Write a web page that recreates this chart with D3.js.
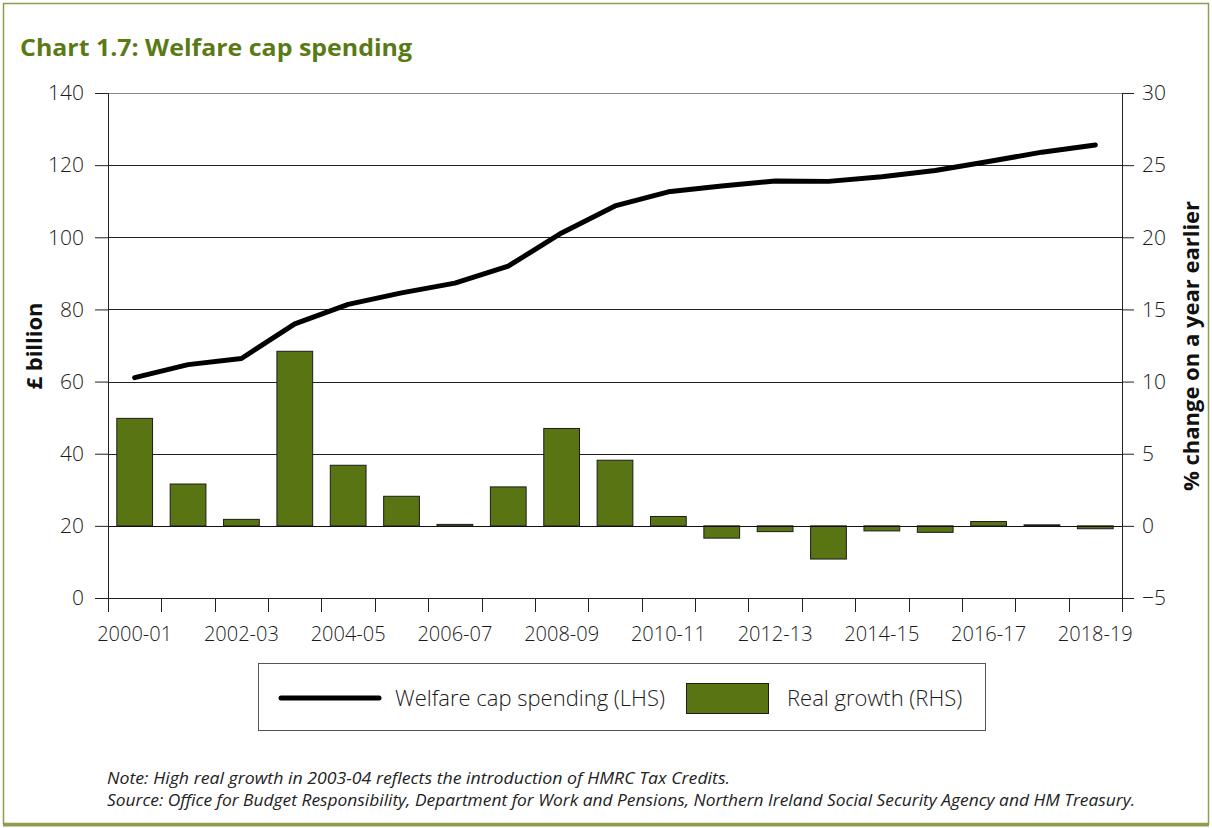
<!DOCTYPE html>
<html>
<head>
<meta charset="utf-8">
<script src="https://cdn.jsdelivr.net/npm/d3@7"></script>
<style>
  html, body { margin: 0; padding: 0; background: #fff; }
  svg { display: block; font-family: "Open Sans", "Noto Sans", sans-serif; }
</style>
</head>
<body>
<svg id="chart" width="1212" height="828"></svg>
<script>
// Fiscal years
const years = ["2000-01","2001-02","2002-03","2003-04","2004-05","2005-06","2006-07","2007-08",
  "2008-09","2009-10","2010-11","2011-12","2012-13","2013-14","2014-15","2015-16","2016-17",
  "2017-18","2018-19"];
// Welfare cap spending, £ billion (left axis)
const spending = [61.1, 64.7, 66.4, 76.0, 81.4, 84.6, 87.3, 92.0, 101.2, 108.7, 112.6, 114.2,
  115.6, 115.5, 116.8, 118.5, 121.0, 123.6, 125.6];
// Real growth, % change on a year earlier (right axis)
const growth = [7.45, 2.9, 0.45, 12.1, 4.2, 2.05, 0.1, 2.7, 6.75, 4.55, 0.65, -0.85, -0.4,
  -2.3, -0.35, -0.45, 0.3, 0.07, -0.2];
// Axis ticks
const leftTicks = [0, 20, 40, 60, 80, 100, 120, 140];
const rightTicks = [-5, 0, 5, 10, 15, 20, 25, 30];
const labelledYears = years.filter((d, i) => i % 2 === 0);

const green = "#587413";
const olive = "#8d9d4c";
const svg = d3.select("#chart");

// Frame
svg.append("rect").attr("x", 3.5).attr("y", 3.5).attr("width", 1205).attr("height", 820)
  .attr("fill", "none").attr("stroke", olive).attr("stroke-width", 1.5);
svg.append("line").attr("x1", 3).attr("x2", 1209).attr("y1", 825).attr("y2", 825)
  .attr("stroke", olive).attr("stroke-width", 3);

// Title
svg.append("text").attr("x", 20).attr("y", 56).text("Chart 1.7: Welfare cap spending")
  .attr("fill", "#5a7a16").attr("font-weight", "bold").attr("font-size", 24)
  .attr("textLength", 392).attr("lengthAdjust", "spacingAndGlyphs");

const plot = { left: 108, right: 1122, top: 93, bottom: 598 };
const x = d3.scaleBand().domain(years).range([plot.left, plot.right]).paddingInner(0.33).paddingOuter(0.165);
const xb = d3.scaleBand().domain(years).range([plot.left, plot.right]);
const yL = d3.scaleLinear().domain([0, 140]).range([plot.bottom, plot.top]);
const yR = d3.scaleLinear().domain([-5, 30]).range([plot.bottom, plot.top]);

// Gridlines
svg.append("g").selectAll("line").data(leftTicks.filter(d => d > 0)).join("line")
  .attr("x1", plot.left).attr("x2", plot.right)
  .attr("y1", d => Math.round(yL(d)) + 0.5).attr("y2", d => Math.round(yL(d)) + 0.5)
  .attr("stroke", d => d === 140 ? "#888" : "#222").attr("stroke-width", 1);

// Bars
svg.append("g").selectAll("rect").data(growth).join("rect")
  .attr("x", (d, i) => x(years[i]))
  .attr("width", x.bandwidth())
  .attr("y", d => yR(Math.max(0, d)))
  .attr("height", d => Math.abs(yR(d) - yR(0)))
  .attr("fill", green).attr("stroke", "#1c1c1c").attr("stroke-width", 1);

// Zero line for the bars
svg.append("line").attr("x1", plot.left).attr("x2", plot.right)
  .attr("y1", Math.round(yR(0)) + 0.5).attr("y2", Math.round(yR(0)) + 0.5)
  .attr("stroke", "#111").attr("stroke-width", 1);

// Spending line
const line = d3.line().x((d, i) => xb(years[i]) + xb.bandwidth() / 2).y(d => yL(d));
svg.append("path").datum(spending).attr("d", line)
  .attr("fill", "none").attr("stroke", "#000").attr("stroke-width", 5)
  .attr("stroke-linejoin", "round").attr("stroke-linecap", "round");

// Axes
const tickFont = size => g => g.selectAll("text").attr("font-size", size).attr("fill", "#1a1a1a")
  .attr("font-family", "'Open Sans', 'Noto Sans', sans-serif").attr("font-weight", 300);

const axL = svg.append("g").attr("transform", `translate(${plot.left},0)`)
  .call(d3.axisLeft(yL).tickValues(leftTicks).tickSize(13).tickPadding(11));
axL.call(tickFont(21));
axL.selectAll("line, path").attr("stroke", "#222");

const axR = svg.append("g").attr("transform", `translate(${plot.right},0)`)
  .call(d3.axisRight(yR).tickValues(rightTicks).tickSize(12).tickPadding(8));
axR.call(tickFont(21));
axR.selectAll("line, path").attr("stroke", "#222");

// Category axis: ticks at band edges, labels every other year
const axB = svg.append("g").attr("transform", `translate(0,${plot.bottom})`);
axB.append("line").attr("x1", plot.left).attr("x2", plot.right).attr("y1", 0.5).attr("y2", 0.5)
  .attr("stroke", "#222");
axB.selectAll("line.tk").data(years.concat(["end"])).join("line").attr("class", "tk")
  .attr("x1", (d, i) => Math.round(plot.left + i * xb.step()) + 0.5)
  .attr("x2", (d, i) => Math.round(plot.left + i * xb.step()) + 0.5)
  .attr("y1", 0).attr("y2", 14).attr("stroke", "#222");
axB.selectAll("text").data(labelledYears).join("text")
  .attr("x", d => xb(d) + xb.bandwidth() / 2).attr("y", 43)
  .attr("text-anchor", "middle").text(d => d);
axB.call(tickFont(20));

// Axis titles
svg.append("text").attr("transform", "translate(42,346) rotate(-90)").attr("text-anchor", "middle")
  .attr("font-size", 22).attr("font-weight", "bold").attr("fill", "#111").text("£ billion");
svg.append("text").attr("transform", "translate(1199,346) rotate(-90)").attr("text-anchor", "middle")
  .attr("font-size", 22).attr("font-weight", "bold").attr("fill", "#111").text("% change on a year earlier");

// Legend
const lg = svg.append("g");
lg.append("rect").attr("x", 258.5).attr("y", 663.5).attr("width", 727).attr("height", 67)
  .attr("fill", "#fff").attr("stroke", "#555").attr("stroke-width", 1);
lg.append("line").attr("x1", 281).attr("x2", 379).attr("y1", 698).attr("y2", 698)
  .attr("stroke", "#000").attr("stroke-width", 5).attr("stroke-linecap", "round");
lg.append("text").attr("x", 395).attr("y", 706).text("Welfare cap spending (LHS)");
lg.append("rect").attr("x", 686.5).attr("y", 683.5).attr("width", 82).attr("height", 30)
  .attr("fill", green).attr("stroke", "#1c1c1c");
lg.append("text").attr("x", 787).attr("y", 706).text("Real growth (RHS)");
lg.call(tickFont(22));

// Notes
const notes = [
  { text: "Note: High real growth in 2003-04 reflects the introduction of HMRC Tax Credits.", width: 623 },
  { text: "Source: Office for Budget Responsibility, Department for Work and Pensions, Northern Ireland Social Security Agency and HM Treasury.", width: 1028 }
];
svg.append("g").selectAll("text").data(notes).join("text")
  .attr("x", 107).attr("y", (d, i) => 784 + i * 22).text(d => d.text)
  .attr("textLength", d => d.width).attr("lengthAdjust", "spacingAndGlyphs")
  .attr("font-size", 16).attr("font-style", "italic").attr("fill", "#222");
</script>
</body>
</html>
